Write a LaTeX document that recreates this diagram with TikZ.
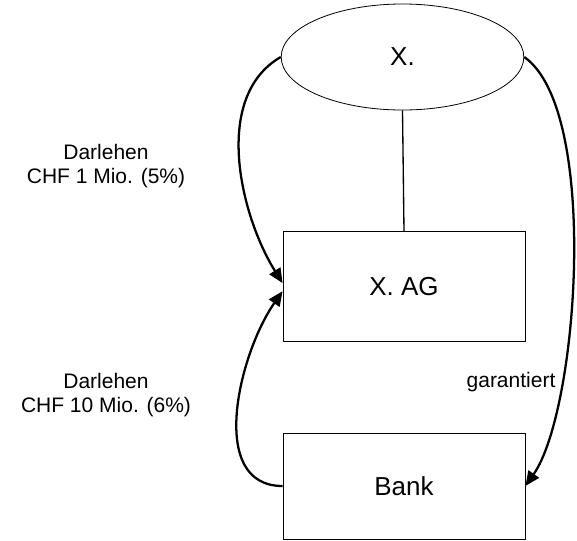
\documentclass[tikz,border=0pt]{standalone}
\usepackage{fontspec}
\setmainfont{Liberation Sans}
\usetikzlibrary{positioning,arrows.meta,shapes.geometric}

\begin{document}
\begin{tikzpicture}[
  x=0.75pt,y=-0.75pt,
  party/.style={rectangle,draw,line width=0.6pt,minimum width=181.5pt,minimum height=#1,inner sep=0pt,font=\fontsize{19.5}{23}\selectfont},
  owner/.style={ellipse,draw,line width=0.6pt,minimum width=182pt,minimum height=79.5pt,inner sep=0pt,font=\fontsize{19.5}{23}\selectfont},
  lbl/.style={align=center,font=\fontsize{15.75}{18.5}\selectfont},
  flow/.style={-{Triangle[length=11pt,width=9.5pt]},line width=1.7pt},
]
\useasboundingbox (0,0) rectangle (577,540);

% === parties ===
\node[owner] (x) at (402.5,57) {X.};
\node[party=82pt] (xag) at (404,286.5) {X. AG};
\node[party=79.5pt] (bank) at (404,486) {Bank};

% ownership
\draw[line width=1pt] (x.south) -- (xag.north);

% === loans and guarantee ===
\draw[flow] (x.west) to[out=210,in=122,looseness=0.9] ([yshift=2.5pt]xag.west);
\draw[flow] (bank.west) to[out=180,in=235] ([yshift=-3.5pt]xag.west);
\draw[flow] (x.east) to[out=-35,in=55,looseness=0.55] (bank.east);

% labels
\node[lbl] (loan1) at (106,166) {Darlehen\\CHF 1 Mio. (5\%)};
\node[lbl] (loan2) at (106,395) {Darlehen\\CHF 10 Mio. (6\%)};
\node[lbl] (guar) at (511,382) {garantiert};

\end{tikzpicture}
\end{document}
